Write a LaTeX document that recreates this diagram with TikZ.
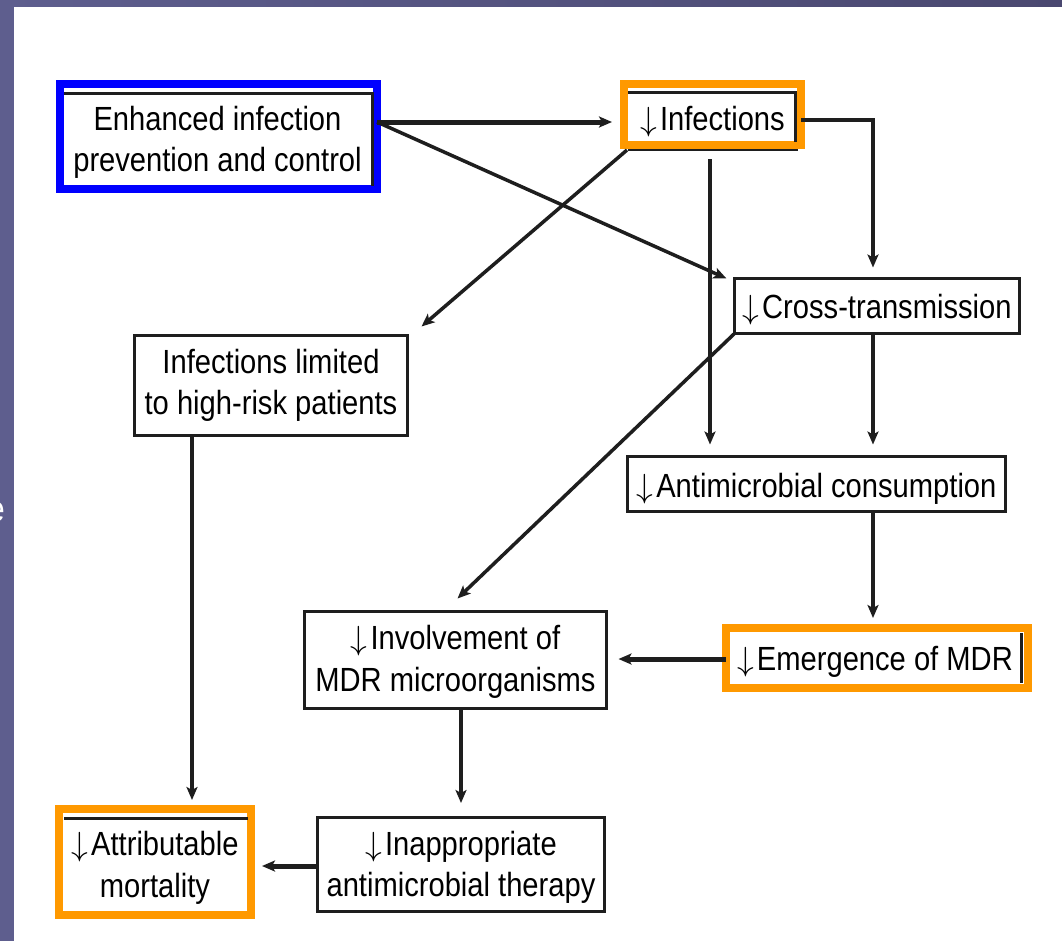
\RequirePackage{fix-cm}
\documentclass[tikz,border=0pt]{standalone}
\usepackage{fontspec}
\setmainfont{Liberation Sans}[FakeStretch=0.87]
\usetikzlibrary{arrows.meta,calc}
\definecolor{slideA}{RGB}{94,94,142}
\definecolor{slideB}{RGB}{74,72,112}
\definecolor{hlblue}{RGB}{0,0,255}
\definecolor{hlorange}{RGB}{255,153,0}
\definecolor{ink}{RGB}{30,30,30}
\newcommand{\dn}{$\downarrow$\kern3pt}
\tikzset{
 box/.style={draw=ink, line width=3pt, fill=white, inner sep=0pt, outer sep=0pt},
 bluebox/.style={box, draw=hlblue, line width=8pt},
 orangebox/.style={box, draw=hlorange, line width=8pt},
 lbl/.style={inner sep=0pt, align=center, font=\fontsize{33.5}{41.5}\selectfont, text=black},
 conn/.style={draw=ink, line width=3.5pt, -{Stealth[length=13pt,width=11pt,inset=3pt]}},
 thickconn/.style={conn, line width=5pt},
 remnant/.style={draw=ink, line width=3pt},
}
\begin{document}
\begin{tikzpicture}[x=1pt,y=-1pt]
\useasboundingbox (0,0) rectangle (1062,940);
\shade[left color=slideA, right color=slideB] (0,0) rectangle (1062,940);
\node[text=white, font=\fontsize{36}{36}\selectfont, inner sep=0pt] (edge) at (-4,512) {e};
\fill[white] (14,7) rectangle (1090,970);

\node[bluebox, minimum width=317pt, minimum height=105pt] (enh) at (218.5,136.5) {};
\node[orangebox, minimum width=177pt, minimum height=61pt] (inf) at (712.5,114.5) {};
\node[box, minimum width=285pt, minimum height=55pt] (cross) at (877,306) {};
\node[box, minimum width=273pt, minimum height=100pt] (lim) at (271,385.5) {};
\node[box, minimum width=378pt, minimum height=55pt] (ant) at (816.5,484) {};
\node[orangebox, minimum width=302pt, minimum height=60pt] (emer) at (877,658) {};
\node[box, minimum width=302pt, minimum height=97pt] (inv) at (455.5,660) {};
\node[orangebox, minimum width=192pt, minimum height=106pt] (attr) at (155,862) {};
\node[box, minimum width=287pt, minimum height=94pt] (inap) at (461,864.5) {};

\node[lbl] (enhT) at ($(enh)+(-1,6)$) {Enhanced infection\\prevention and control};
\node[lbl] (infT) at ($(inf)+(0,7)$) {\dn Infections};
\node[lbl] (crossT) at ($(cross)+(0,4)$) {\dn Cross-transmission};
\node[lbl] (limT) at ($(lim)+(0,0)$) {Infections limited\\to high-risk patients};
\node[lbl] (antT) at ($(ant)+(0,5)$) {\dn Antimicrobial consumption};
\node[lbl] (emerT) at ($(emer)+(-2,4)$) {\dn Emergence of MDR};
\node[lbl] (invT) at ($(inv)+(0,2)$) {\dn Involvement of\\MDR microorganisms};
\node[lbl] (attrT) at ($(attr)+(0,6)$) {\dn Attributable\\mortality};
\node[lbl] (inapT) at ($(inap)+(0,3)$) {\dn Inappropriate\\antimicrobial therapy};

% remnants of original black frames
\draw[remnant] (64,93) -- (372,93) -- (372,186);
\draw[remnant] (628,92) -- (795,92) -- (795,142);
\draw[ink, line width=2pt] (628,150) -- (798,150);
\draw[remnant] (1021,633) -- (1021,683);
\draw[remnant] (64,818) -- (248,818);

% connectors
\draw[thickconn] ($(enh.east)+(0,-14.5)$) -- ($(inf.west)+(-12,7.5)$);
\draw[conn] ($(enh.east)+(0,-14.5)$) -- ($(cross.north west)+(-8,0)$);
\draw[conn] ($(inf.south west)+(3,5)$) -- ($(lim.north east)+(14,-9)$);
\draw[conn] ($(inf.east)+(0,5.5)$) -| ($(cross.north)+(-4,-11)$);
\draw[conn] ($(inf.south)+(-2.5,14)$) -- ($(ant.north)+(-106.5,-12)$);
\draw[conn] ($(cross.south)+(-4,0)$) -- ($(ant.north)+(56.5,-12)$);
\draw[conn] (cross.south west) -- ($(inv.north)+(2,-13)$);
\draw[conn] ($(ant.south)+(56.5,0)$) -- ($(emer.north)+(-4,-10)$);
\draw[thickconn] ($(emer.west)+(0,1)$) -- ($(inv.east)+(12,-1)$);
\draw[conn] ($(lim.south)+(-79,0)$) -- ($(attr.north)+(37,-9)$);
\draw[conn] ($(inv.south)+(5.5,0)$) -- ($(inap.north)+(0,-14.5)$);
\draw[thickconn] ($(inap.west)+(0,1.5)$) -- ($(attr.east)+(11,4)$);
\end{tikzpicture}
\end{document}
